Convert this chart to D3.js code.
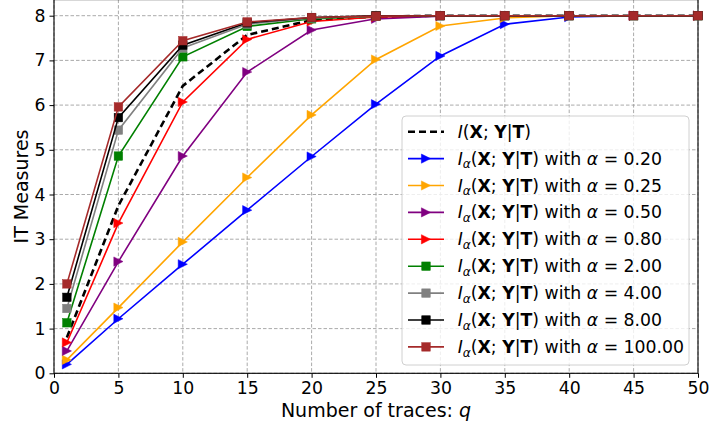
<!DOCTYPE html>
<html>
<head>
<meta charset="utf-8">
<script src="https://cdn.jsdelivr.net/npm/d3@7/dist/d3.min.js"></script>
<style>
  html, body { margin: 0; padding: 0; background: #fff; }
  svg { display: block; font-family: "DejaVu Sans", sans-serif; }
</style>
</head>
<body>
<svg id="chart" width="710" height="432"></svg>
<script>
// ---------------- data ----------------
const traces = [1, 5, 10, 15, 20, 25, 30, 35, 40, 45, 50];
const xTicks = [0, 5, 10, 15, 20, 25, 30, 35, 40, 45, 50];
const yTicks = [0, 1, 2, 3, 4, 5, 6, 7, 8];

const miValues   = [0.80, 3.75, 6.43, 7.57, 7.90, 7.98, 8.00, 8.00, 8.00, 8.00, 8.00];
const alpha020   = [0.20, 1.22, 2.44, 3.65, 4.85, 6.02, 7.10, 7.81, 7.97, 8.00, 8.00];
const alpha025   = [0.30, 1.47, 2.94, 4.38, 5.78, 7.02, 7.77, 7.95, 8.00, 8.00, 8.00];
const alpha050   = [0.50, 2.50, 4.86, 6.74, 7.68, 7.93, 7.99, 8.00, 8.00, 8.00, 8.00];
const alpha080   = [0.69, 3.36, 6.07, 7.47, 7.87, 7.97, 8.00, 8.00, 8.00, 8.00, 8.00];
const alpha200   = [1.13, 4.86, 7.08, 7.76, 7.93, 7.99, 8.00, 8.00, 8.00, 8.00, 8.00];
const alpha400   = [1.45, 5.44, 7.28, 7.81, 7.95, 7.99, 8.00, 8.00, 8.00, 8.00, 8.00];
const alpha800   = [1.70, 5.72, 7.34, 7.84, 7.96, 8.00, 8.00, 8.00, 8.00, 8.00, 8.00];
const alpha10000 = [2.00, 5.96, 7.44, 7.86, 7.96, 7.99, 8.00, 8.00, 8.00, 8.00, 8.00];

const alphaLabels = ["0.20", "0.25", "0.50", "0.80", "2.00", "4.00", "8.00", "100.00"];
const alphaSeries = [alpha020, alpha025, alpha050, alpha080, alpha200, alpha400, alpha800, alpha10000];
const alphaColors = ["#0000ff", "#ffa500", "#800080", "#ff0000", "#008000", "#808080", "#000000", "#a52a2a"];
const alphaMarkers = ["tri", "tri", "tri", "tri", "sq", "sq", "sq", "sq"];

// ---------------- layout ----------------
const FS = 17.3, LFS = 19;
const svg = d3.select("#chart");
const plotLeft = 54, plotRight = 698, plotBottom = 373.3;
const x = d3.scaleLinear().domain([0, 50]).range([plotLeft, plotRight]);
const y = d3.scaleLinear().domain([0, 8]).range([plotBottom, 15.7]);
const plotTop = y(8.36);

// grid
const grid = svg.append("g");
xTicks.forEach(t => {
  grid.append("line").attr("x1", x(t)).attr("x2", x(t)).attr("y1", plotTop).attr("y2", plotBottom)
    .attr("stroke", "#a0a0a0").attr("stroke-width", 0.9).attr("stroke-dasharray", "3.5,2");
});
yTicks.forEach(t => {
  grid.append("line").attr("x1", plotLeft).attr("x2", plotRight).attr("y1", y(t)).attr("y2", y(t))
    .attr("stroke", "#a0a0a0").attr("stroke-width", 0.9).attr("stroke-dasharray", "3.5,2");
});

// axes
const xAxis = d3.axisBottom(x).tickValues(xTicks).tickSize(4.5).tickPadding(4).tickFormat(d3.format("d"));
const yAxis = d3.axisLeft(y).tickValues(yTicks).tickSize(4.5).tickPadding(4).tickFormat(d3.format("d"));
const gx = svg.append("g").attr("transform", `translate(0,${plotBottom})`).call(xAxis);
const gy = svg.append("g").attr("transform", `translate(${plotLeft},0)`).call(yAxis);
[gx, gy].forEach(g => {
  g.attr("font-size", FS).attr("font-family", "DejaVu Sans");
  g.select(".domain").remove();
  g.selectAll("text").attr("font-size", FS).attr("fill", "#000");
  g.selectAll("line").attr("stroke", "#000").attr("stroke-width", 1);
});

// spines
svg.append("rect").attr("x", plotLeft).attr("y", plotTop).attr("width", plotRight - plotLeft).attr("height", plotBottom - plotTop)
  .attr("fill", "none").attr("stroke", "#000").attr("stroke-width", 1.1);

// axis labels
const xl = svg.append("text").attr("x", (plotLeft + plotRight) / 2).attr("y", 417).attr("text-anchor", "middle")
  .attr("font-size", LFS).attr("fill", "#000");
xl.append("tspan").text("Number of traces: ");
xl.append("tspan").attr("font-style", "italic").text("q");

svg.append("text").attr("transform", `translate(27.5,${(plotTop + plotBottom) / 2}) rotate(-90)`)
  .attr("text-anchor", "middle").attr("font-size", LFS).attr("fill", "#000").text("IT Measures");

// ---------------- series ----------------
const line = d3.line().x((d, i) => x(traces[i])).y(d => y(d));
const plot = svg.append("g");

function drawMarker(g, type, cx, cy, color) {
  if (type === "sq") {
    const s = 8.5;
    g.append("rect").attr("x", cx - s / 2).attr("y", cy - s / 2).attr("width", s).attr("height", s)
      .attr("fill", color).attr("stroke", color).attr("stroke-width", 0.5);
  } else {
    const h = 4.6;
    g.append("path").attr("d", `M${cx + h},${cy} L${cx - h},${cy - h} L${cx - h},${cy + h} Z`)
      .attr("fill", color).attr("stroke", color).attr("stroke-width", 0.5);
  }
}

plot.append("path").datum(miValues).attr("d", line).attr("fill", "none")
  .attr("stroke", "#000").attr("stroke-width", 2.6).attr("stroke-dasharray", "7,4");

alphaSeries.forEach((vals, k) => {
  const g = plot.append("g");
  g.append("path").datum(vals).attr("d", line).attr("fill", "none")
    .attr("stroke", alphaColors[k]).attr("stroke-width", 1.6);
  vals.forEach((v, i) => drawMarker(g, alphaMarkers[k], x(traces[i]), y(v), alphaColors[k]));
});

// ---------------- legend ----------------
const lg = svg.append("g");
lg.append("rect").attr("x", 402).attr("y", 116).attr("width", 287).attr("height", 249)
  .attr("rx", 4).attr("fill", "#fff").attr("fill-opacity", 0.8).attr("stroke", "#d0d0d0").attr("stroke-width", 1);

const rowY0 = 131.7, rowStep = 26.9, hx1 = 408, hx2 = 444, tx = 457.7;

function miLabel(t, withAlpha, alphaText) {
  t.append("tspan").attr("font-style", "italic").text("I");
  if (withAlpha) {
    t.append("tspan").attr("font-style", "italic").attr("font-size", FS * 0.7).attr("dy", 3.8).text("α");
    t.append("tspan").attr("dy", -3.8).text("(");
  } else {
    t.append("tspan").text("(");
  }
  t.append("tspan").attr("font-weight", "bold").text("X");
  t.append("tspan").text("; ");
  t.append("tspan").attr("font-weight", "bold").text("Y");
  t.append("tspan").text("|");
  t.append("tspan").attr("font-weight", "bold").text("T");
  t.append("tspan").text(")");
  if (withAlpha) {
    t.append("tspan").text(" with ");
    t.append("tspan").attr("font-style", "italic").text("α");
    t.append("tspan").text(" = " + alphaText);
  }
}

{
  const cy = rowY0;
  lg.append("line").attr("x1", hx1).attr("x2", hx2).attr("y1", cy).attr("y2", cy)
    .attr("stroke", "#000").attr("stroke-width", 2.6).attr("stroke-dasharray", "7,4");
  const t = lg.append("text").attr("x", tx).attr("y", cy + 6).attr("font-size", FS).attr("fill", "#000")
    .attr("xml:space", "preserve");
  miLabel(t, false);
}
alphaLabels.forEach((a, k) => {
  const cy = rowY0 + rowStep * (k + 1);
  lg.append("line").attr("x1", hx1).attr("x2", hx2).attr("y1", cy).attr("y2", cy)
    .attr("stroke", alphaColors[k]).attr("stroke-width", 1.6);
  drawMarker(lg, alphaMarkers[k], (hx1 + hx2) / 2, cy, alphaColors[k]);
  const t = lg.append("text").attr("x", tx).attr("y", cy + 6).attr("font-size", FS).attr("fill", "#000")
    .attr("xml:space", "preserve");
  miLabel(t, true, a);
});
</script>
</body>
</html>
